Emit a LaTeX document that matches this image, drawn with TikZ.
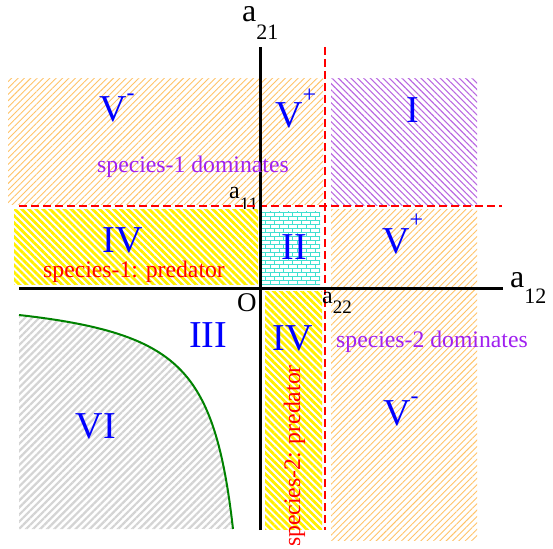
\documentclass[tikz,border=0pt]{standalone}
\usepackage{fontspec}
\setmainfont{Liberation Serif}
\usetikzlibrary{patterns.meta}
\definecolor{pblue}{RGB}{0,0,255}
\definecolor{pred}{RGB}{255,0,0}
\definecolor{pviolet}{RGB}{160,32,240}
\definecolor{porange}{RGB}{255,195,105}
\definecolor{plilac}{RGB}{185,105,225}
\definecolor{pyellow}{RGB}{255,240,0}
\definecolor{pteal}{RGB}{64,224,208}
\definecolor{pgrey}{RGB}{212,212,212}
\definecolor{pgreen}{RGB}{0,130,0}
\pgfdeclarepattern{
  name=wallbricks,
  type=uncolored,
  bottom left={\pgfpoint{-.5pt}{-.5pt}},
  top right={\pgfpoint{9.5pt}{8.5pt}},
  tile size={\pgfpoint{9pt}{8pt}},
  code={
    \pgfsetlinewidth{0.8pt}
    \pgfpathmoveto{\pgfpoint{0pt}{0pt}}\pgfpathlineto{\pgfpoint{9pt}{0pt}}
    \pgfpathmoveto{\pgfpoint{0pt}{4pt}}\pgfpathlineto{\pgfpoint{9pt}{4pt}}
    \pgfpathmoveto{\pgfpoint{0pt}{0pt}}\pgfpathlineto{\pgfpoint{0pt}{4pt}}
    \pgfpathmoveto{\pgfpoint{4.5pt}{4pt}}\pgfpathlineto{\pgfpoint{4.5pt}{8pt}}
    \pgfusepath{stroke}
  }
}
\newcommand{\vmark}[2]{V\raisebox{#2}{\fontsize{24}{24}\selectfont #1}}
\newcommand{\acoef}[4]{\fontsize{#1}{#1}\selectfont a\raisebox{#3}{\fontsize{#2}{#2}\selectfont #4}}
\tikzset{
  axisline/.style={line width=3pt,draw=black},
  cutline/.style={draw=pred,line width=1.8pt,dash pattern=on 8pt off 4pt},
  bound/.style={draw=pgreen,line width=2pt},
  hatchor/.style={pattern={Lines[angle=45,distance=4.5pt,line width=0.9pt]},pattern color=porange},
  hatchli/.style={pattern={Lines[angle=-45,distance=4.5pt,line width=1.1pt]},pattern color=plilac},
  stripye/.style={preaction={fill=white},pattern={Lines[angle=-45,distance=5pt,line width=2.8pt]},pattern color=pyellow},
  stripgr/.style={pattern={Lines[angle=45,distance=5pt,line width=2.2pt]},pattern color=pgrey},
  brickte/.style={preaction={fill=white},pattern=wallbricks,pattern color=pteal},
  roman/.style={text=pblue,font=\fontsize{38}{38}\selectfont,inner sep=0pt},
  phrase/.style={font=\fontsize{23.7}{24}\selectfont,inner sep=0pt},
  axlabel/.style={inner sep=0pt,anchor=base west},
}
\begin{document}
\begin{tikzpicture}[x=1pt,y=-1pt]
  \useasboundingbox (0,0) rectangle (553,548);
  % hatched regions above the a11 line
  \path[hatchor] (8,79) rectangle (323,204);
  \path[hatchli] (331,79) rectangle (477,205);
  \path[hatchor] (331,209) rectangle (477,540);
  \node[axlabel] (a11) at (229,198) {\acoef{24}{19}{-0.5em}{11}};
  % predator strips and the brick square
  \path[stripye] (14,209) rectangle (258,284);
  \path[brickte] (262,211) rectangle (320,284);
  \path[stripye] (265,291) rectangle (322,529);
  % region VI under the green curve
  \path[stripgr] (19,529) -- plot[domain=241:27,samples=120] ({260-\x},{288+6507/\x}) -- cycle;
  \draw[bound] plot[domain=241:27,samples=120] ({260-\x},{288+6507/\x});
  % dashed thresholds and axes
  \coordinate (htl) at (19,206);
  \coordinate (htr) at (502,206);
  \coordinate (vtt) at (325,47);
  \coordinate (vtb) at (325,530);
  \draw[cutline] (htl) -- (htr);
  \draw[cutline] (vtt) -- (vtb);
  \coordinate (ytop) at (260,47);
  \coordinate (ybot) at (260,530);
  \coordinate (xlft) at (19,288);
  \coordinate (xrgt) at (503,288);
  \draw[axisline] (ybot) -- (ytop);
  \draw[axisline] (xlft) -- (xrgt);
  \node[axlabel,text height=15pt] (a21) at (242,22) {\acoef{32}{22}{-0.55em}{21}};
  \node[axlabel] (a12) at (510,287) {\acoef{32}{22}{-0.5em}{12}};
  \node[axlabel] (a22) at (322,303) {\acoef{24}{19}{-0.42em}{22}};
  \node[axlabel,font=\fontsize{27}{27}\selectfont] (orig) at (237,311) {O};
  % region numerals
  \node[roman,anchor=base west] (vmtop) at (99,122) {\vmark{-}{0.56em}};
  \node[roman,anchor=base west] (vptop) at (275,128) {\vmark{+}{0.68em}};
  \node[roman,anchor=base] (r1) at (413,123) {I};
  \node[roman,anchor=base west] (vpmid) at (382,253) {\vmark{+}{0.68em}};
  \node[roman,anchor=base] (r4a) at (123,252) {IV};
  \node[roman,anchor=base] (r2) at (294,259) {II};
  \node[roman,anchor=base] (r3) at (208,347) {III};
  \node[roman,anchor=base] (r4b) at (293,350) {IV};
  \node[roman,anchor=base] (r6) at (96,438) {VI};
  \node[roman,anchor=base west] (vmbot) at (383,425) {\vmark{-}{0.56em}};
  % captions
  \node[phrase,text=pviolet,anchor=base west] (dom1) at (97,172) {species-1 dominates};
  \node[phrase,text=pred,anchor=base west] (pre1) at (43,277) {species-1: predator};
  \node[phrase,text=pviolet,anchor=base west] (dom2) at (336,347) {species-2 dominates};
  \node[phrase,text=pred,anchor=base west,rotate=90] (pre2) at (300,547) {species-2: predator};
\end{tikzpicture}
\end{document}
